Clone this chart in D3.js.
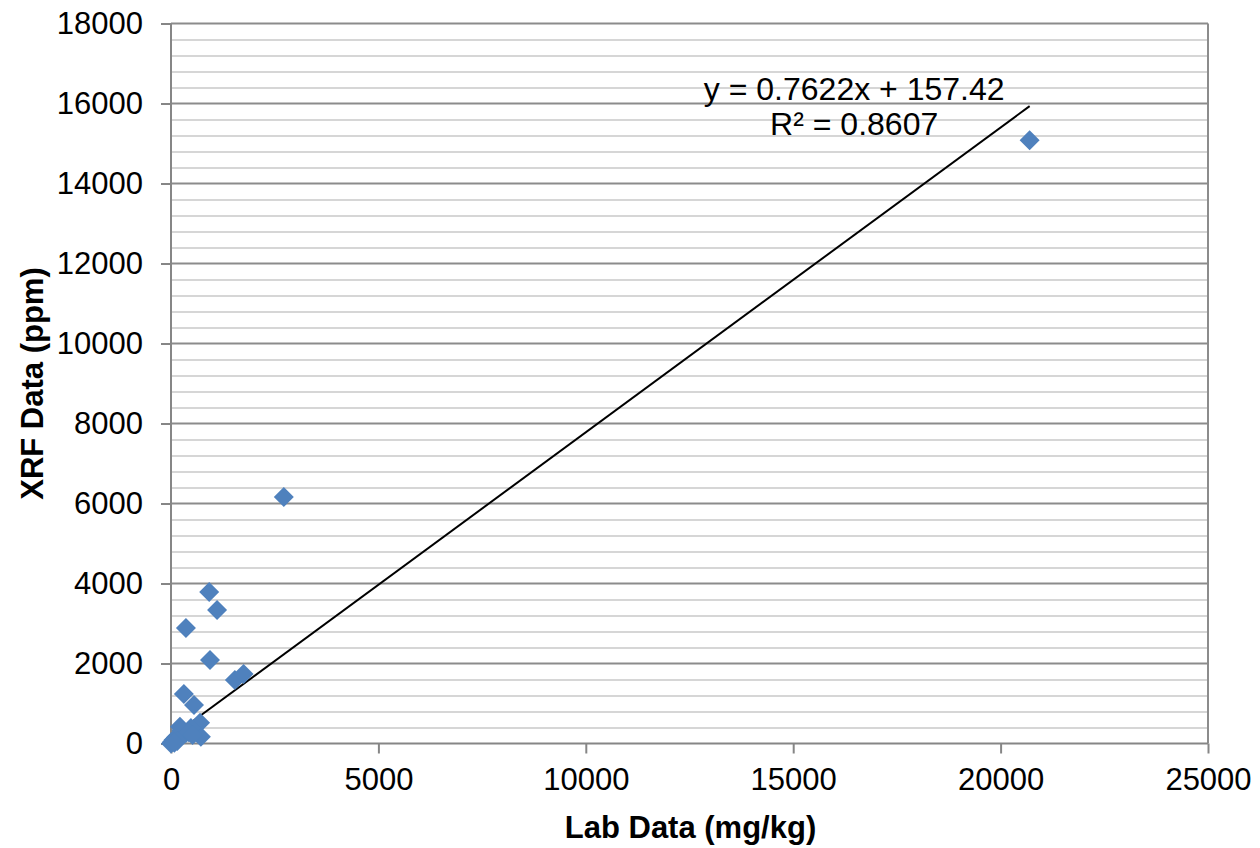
<!DOCTYPE html>
<html>
<head>
<meta charset="utf-8">
<script src="https://cdn.jsdelivr.net/npm/d3@7"></script>
<style>
  body { margin: 0; background: #fff; }
  svg { display: block; font-family: 'Liberation Sans', Arial, sans-serif; }
</style>
</head>
<body>
<div id="chart"></div>
<script>
	'use strict';

	////////// Data //////////
	const labData = [20700, 2720, 920, 1110, 360, 940, 1540, 1750, 310, 555, 700, 720, 215, 480, 360, 120, 60, 20, 250, 150, 0, 430, 520, 80];
	const xrfData = [15080, 6160, 3790, 3340, 2890, 2090, 1590, 1740, 1240, 960, 520, 170, 420, 390, 260, 150, 90, 30, 330, 60, 0, 280, 210, 20];
	const xTicks = [0, 5000, 10000, 15000, 20000, 25000];
	const yTicks = [0, 2000, 4000, 6000, 8000, 10000, 12000, 14000, 16000, 18000];
	const minorStep = 400;
	const slope = 0.7622, intercept = 157.42;
	const eqLabel = 'y = 0.7622x + 157.42';
	const r2Label = 'R² = 0.8607';

	////////// Layout //////////
	const W = 1260, H = 848;
	const margin = { left: 171, top: 23.5, right: 52, bottom: 104.5 };
	const innerW = W - margin.left - margin.right;
	const innerH = H - margin.top - margin.bottom;
	const markerColor = '#4F81BD';
	const majorGrid = '#8c8c8c';
	const minorGrid = '#c8c8c8';
	const axisColor = '#868686';

	const svg = d3.select('#chart').append('svg').attr('width', W).attr('height', H);
	const g = svg.append('g').attr('transform', `translate(${margin.left},${margin.top})`);

	const x = d3.scaleLinear().domain([0, 25000]).range([0, innerW]);
	const y = d3.scaleLinear().domain([0, 18000]).range([innerH, 0]);

	// minor gridlines
	const minorVals = d3.range(0, 18000 + 1, minorStep).filter(v => v % 2000 !== 0);
	g.append('g').selectAll('line').data(minorVals).join('line')
		.attr('x1', 0).attr('x2', innerW)
		.attr('y1', d => Math.round(y(d)) + 0.5).attr('y2', d => Math.round(y(d)) + 0.5)
		.attr('stroke', minorGrid).attr('stroke-width', 1.5);

	// major gridlines
	g.append('g').selectAll('line').data(yTicks.filter(v => v > 0)).join('line')
		.attr('x1', 0).attr('x2', innerW)
		.attr('y1', d => y(d)).attr('y2', d => y(d))
		.attr('stroke', majorGrid).attr('stroke-width', 2);

	// right border
	g.append('line').attr('x1', innerW).attr('x2', innerW).attr('y1', 0).attr('y2', innerH)
		.attr('stroke', majorGrid).attr('stroke-width', 2);

	// axes
	const yAxis = d3.axisLeft(y).tickValues(yTicks).tickSize(10).tickPadding(18).tickFormat(d3.format('d'));
	const xAxis = d3.axisBottom(x).tickValues(xTicks).tickSize(10).tickPadding(14).tickFormat(d3.format('d'));

	const yG = g.append('g').call(yAxis);
	const xG = g.append('g').attr('transform', `translate(0,${innerH})`).call(xAxis);
	[yG, xG].forEach(a => {
		a.select('.domain').attr('stroke', axisColor).attr('stroke-width', 2);
		a.selectAll('.tick line').attr('stroke', axisColor).attr('stroke-width', 2);
		a.selectAll('.tick text').attr('fill', '#000').style('font-size', '31px')
			.style('font-family', "'Liberation Sans', Arial, sans-serif");
	});
	xG.select('.domain').attr('d', `M0,0H${innerW}`);
	yG.select('.domain').attr('d', `M0,0V${innerH}`);

	// trendline
	const xMin = d3.min(labData), xMax = d3.max(labData);
	g.append('line')
		.attr('x1', x(xMin)).attr('y1', y(slope * xMin + intercept))
		.attr('x2', x(xMax)).attr('y2', y(slope * xMax + intercept))
		.attr('stroke', '#000').attr('stroke-width', 2);

	// markers
	const pts = labData.map((v, i) => ({ lx: v, xr: xrfData[i] }));
	g.append('g').selectAll('path').data(pts).join('path')
		.attr('transform', d => `translate(${x(d.lx)},${y(d.xr)})`)
		.attr('d', 'M0,-10L10,0L0,10L-10,0Z')
		.attr('fill', markerColor);

	// trendline label
	const lblX = x(16470);
	g.append('text').attr('x', lblX).attr('y', y(15950) - 6)
		.attr('text-anchor', 'middle').style('font-size', '32px').text(eqLabel);
	g.append('text').attr('x', lblX).attr('y', y(15950) + 29)
		.attr('text-anchor', 'middle').style('font-size', '32px').text(r2Label);

	// axis titles
	svg.append('text').attr('x', margin.left + innerW / 2 + 1).attr('y', 838)
		.attr('text-anchor', 'middle').style('font-size', '31px').style('font-weight', 'bold')
		.text('Lab Data (mg/kg)');
	svg.append('text').attr('transform', `translate(43,${margin.top + innerH / 2}) rotate(-90)`)
		.attr('text-anchor', 'middle').style('font-size', '31px').style('font-weight', 'bold')
		.text('XRF Data (ppm)');
</script>
</body>
</html>
